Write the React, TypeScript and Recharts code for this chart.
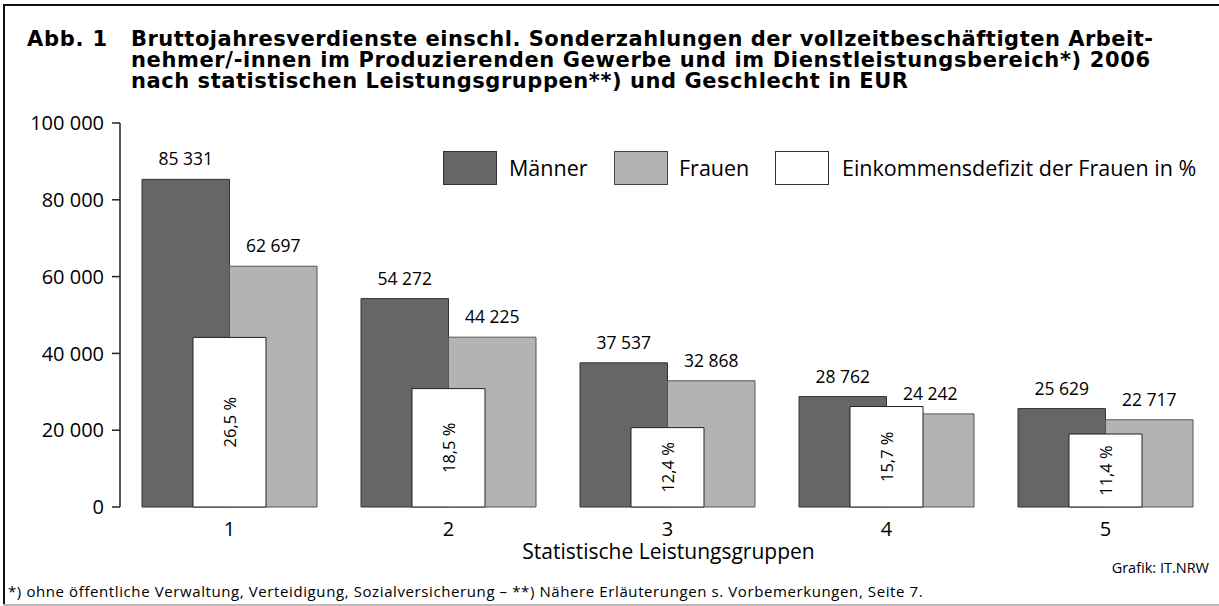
import React from 'react';
import { BarChart, Bar, XAxis, YAxis, LabelList, Legend } from 'recharts';

const categories = ['1', '2', '3', '4', '5'];
const maenner = [85331, 54272, 37537, 28762, 25629];
const frauen = [62697, 44225, 32868, 24242, 22717];
const defizit = [26.5, 18.5, 12.4, 15.7, 11.4];
const yTicks = [0, 20000, 40000, 60000, 80000, 100000];

const seriesNames = {
  m: 'Männer',
  f: 'Frauen',
  d: 'Einkommensdefizit der Frauen in %',
};

const titleLines = [
  'Bruttojahresverdienste einschl. Sonderzahlungen der vollzeitbeschäftigten Arbeit-',
  'nehmer/-innen im Produzierenden Gewerbe und im Dienstleistungsbereich*) 2006',
  'nach statistischen Leistungsgruppen**) und Geschlecht in EUR',
];
const titleWidths = [1022, 1019, 777];

const data = categories.map((c, i) => ({ cat: c, m: maenner[i], f: frauen[i], d: defizit[i] }));

const FONT = '"Open Sans", "DejaVu Sans", sans-serif';
const TITLE_FONT = '"DejaVu Sans", "Open Sans", sans-serif';
const fmt = (v: number) => String(v).replace(/\B(?=(\d{3})+(?!\d))/g, ' ');
const fmtPct = (v: number) => v.toFixed(1).replace('.', ',') + ' %';

const COL_M = '#666666';
const COL_F = '#b3b3b3';

const PctLabel = (props: any) => {
  const { x, y, width, height, value } = props;
  const cx = x + width / 2;
  const cy = y + height / 2;
  return (
    <text
      x={cx}
      y={cy}
      transform={`rotate(-90 ${cx} ${cy})`}
      textAnchor="middle"
      dominantBaseline="central"
      fontSize={16.5}
      fontFamily={FONT}
      fill="#000"
    >
      {fmtPct(Number(value))}
    </text>
  );
};

const legendItems = [
  { key: 'm', fill: COL_M, stroke: '#333', left: 443, textLeft: 509 },
  { key: 'f', fill: COL_F, stroke: '#444', left: 614, textLeft: 679 },
  { key: 'd', fill: '#ffffff', stroke: '#333', left: 775, textLeft: 842 },
];

const LegendContent = () => (
  <div style={{ position: 'relative', width: 1219, height: 40 }}>
    {legendItems.map((it) => (
      <React.Fragment key={it.key}>
        <div
          style={{
            position: 'absolute',
            left: it.left,
            top: 0,
            width: 52,
            height: 32,
            background: it.fill,
            border: `1px solid ${it.stroke}`,
          }}
        />
        <div
          style={{
            position: 'absolute',
            left: it.textLeft,
            top: 0,
            height: 34,
            lineHeight: '34px',
            fontSize: 21.5,
            fontFamily: FONT,
            color: '#000',
            whiteSpace: 'nowrap',
          }}
        >
          {seriesNames[it.key as 'm' | 'f' | 'd']}
        </div>
      </React.Fragment>
    ))}
  </div>
);

export default function App() {
  return (
    <div style={{ position: 'relative', width: 1219, height: 606, background: '#fff', fontFamily: FONT, overflow: 'hidden' }}>
      <style>{'body{margin:0;}'}</style>
      {/* frame */}
      <div style={{ position: 'absolute', left: 3, top: 4, width: 2, height: 602, background: '#111' }} />
      <div style={{ position: 'absolute', left: 3, top: 4, width: 1216, height: 2, background: '#111' }} />
      <div style={{ position: 'absolute', left: 3, top: 604, width: 1216, height: 2, background: '#bbb' }} />

      {/* title */}
      <svg width={1219} height={100} style={{ position: 'absolute', left: 0, top: 0 }}>
        <text
          x={27}
          y={46}
          fontFamily={TITLE_FONT}
          fontWeight={700}
          fontSize={21}
          textLength={80}
          lengthAdjust="spacing"
          fill="#000"
        >
          Abb. 1
        </text>
        {titleLines.map((t, i) => (
          <text
            key={i}
            x={131}
            y={46 + i * 21}
            fontFamily={TITLE_FONT}
            fontWeight={700}
            fontSize={21}
            textLength={titleWidths[i]}
            lengthAdjust="spacing"
            fill="#000"
          >
            {t}
          </text>
        ))}
      </svg>

      <div style={{ position: 'absolute', left: 0, top: 0 }}>
        <BarChart
          width={1219}
          height={606}
          data={data}
          margin={{ top: 123, right: 4, bottom: 69, left: 0 }}
          barGap={0}
        >
          <XAxis
            dataKey="cat"
            xAxisId="main"
            axisLine={false}
            tickLine={false}
            tickSize={0}
            tickMargin={15}
            height={30}
            tick={{ fontSize: 20, fill: '#000', fontFamily: FONT }}
          />
          <XAxis dataKey="cat" xAxisId="over" hide />
          <YAxis
            yAxisId="eur"
            domain={[0, 100000]}
            ticks={yTicks}
            width={120}
            tickFormatter={fmt}
            axisLine={{ stroke: '#222', strokeWidth: 1.5 }}
            tickLine={{ stroke: '#222', strokeWidth: 1.5 }}
            tickSize={8}
            tickMargin={8}
            tick={{ fontSize: 20, fill: '#000', fontFamily: FONT }}
          />
          <YAxis yAxisId="pct" domain={[0, 60]} hide orientation="right" />
          <Legend
            layout="horizontal"
            verticalAlign="middle"
            align="center"
            content={LegendContent}
            wrapperStyle={{ position: 'absolute', top: 151, left: 0, width: 1219 }}
          />
          <Bar
            dataKey="m"
            name={seriesNames.m}
            xAxisId="main"
            yAxisId="eur"
            fill={COL_M}
            stroke="#333"
            strokeWidth={1}
            barSize={87.5}
            isAnimationActive={false}
          >
            <LabelList
              dataKey="m"
              position="top"
              offset={14}
              formatter={(v: any) => fmt(Number(v))}
              style={{ fontSize: 17.5, fill: '#000', fontFamily: FONT }}
            />
          </Bar>
          <Bar
            dataKey="f"
            name={seriesNames.f}
            xAxisId="main"
            yAxisId="eur"
            fill={COL_F}
            stroke="#555"
            strokeWidth={1}
            barSize={87.5}
            isAnimationActive={false}
          >
            <LabelList
              dataKey="f"
              position="top"
              offset={14}
              formatter={(v: any) => fmt(Number(v))}
              style={{ fontSize: 17.5, fill: '#000', fontFamily: FONT }}
            />
          </Bar>
          <Bar
            dataKey="d"
            name={seriesNames.d}
            xAxisId="over"
            yAxisId="pct"
            fill="#ffffff"
            stroke="#222"
            strokeWidth={1}
            barSize={73}
            isAnimationActive={false}
          >
            <LabelList dataKey="d" content={PctLabel} />
          </Bar>
        </BarChart>
      </div>

      {/* axis title */}
      <div
        style={{
          position: 'absolute',
          left: 0,
          width: 1337,
          top: 538,
          textAlign: 'center',
          fontSize: 21,
          lineHeight: '26px',
          color: '#000',
        }}
      >
        Statistische Leistungsgruppen
      </div>
      <div
        style={{
          position: 'absolute',
          right: 10,
          top: 559,
          fontSize: 14.5,
          lineHeight: '18px',
          color: '#000',
        }}
      >
        Grafik: IT.NRW
      </div>
      <div
        style={{
          position: 'absolute',
          left: 8,
          top: 581,
          fontSize: 15,
          letterSpacing: 0.6,
          lineHeight: '20px',
          color: '#000',
          whiteSpace: 'nowrap',
        }}
      >
        *) ohne öffentliche Verwaltung, Verteidigung, Sozialversicherung – **) Nähere Erläuterungen s. Vorbemerkungen, Seite 7.
      </div>
    </div>
  );
}
